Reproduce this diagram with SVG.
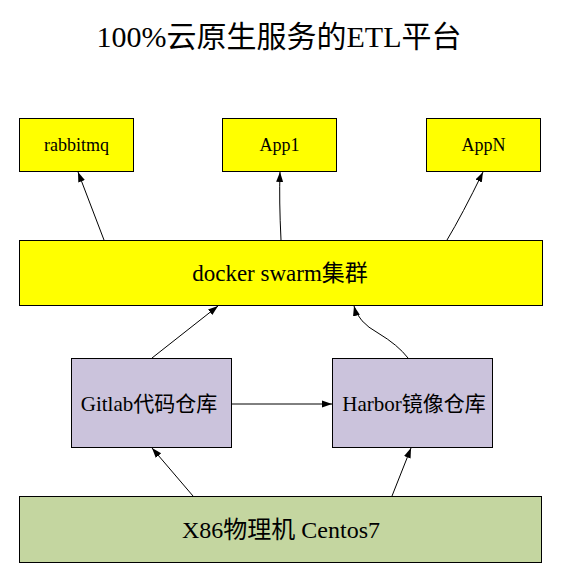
<svg xmlns="http://www.w3.org/2000/svg" width="566" height="582" viewBox="0 0 566 582">
<style>
.box{stroke:#000;stroke-width:1}
.y{fill:#ffff00}
.p{fill:#cbc3dc}
.g{fill:#c4d6a0}
text{font-family:"Liberation Serif","Noto Sans CJK SC",serif;fill:#000;text-anchor:middle}
.c{fill:none;stroke:#000;stroke-width:1}
</style>
<defs>
<marker id="ah" viewBox="0 0 10 10" refX="10" refY="5" markerWidth="10" markerHeight="10" markerUnits="userSpaceOnUse" orient="auto">
<path d="M0,1.5 L10,5 L0,8.5 Z" fill="#000"/>
</marker>
</defs>
<rect width="566" height="582" fill="#fff"/>
<text x="279" y="47" font-size="30">100%云原生服务的ETL平台</text>
<g id="rabbitmq"><rect class="box y" x="19.5" y="118.5" width="114" height="53"/><text x="76.5" y="151" font-size="18">rabbitmq</text></g>
<g id="app1"><rect class="box y" x="222.5" y="118.5" width="114" height="53"/><text x="279.5" y="151" font-size="18">App1</text></g>
<g id="appn"><rect class="box y" x="426.5" y="118.5" width="114" height="53"/><text x="483.5" y="151" font-size="18">AppN</text></g>
<g id="docker"><rect class="box y" x="19.5" y="240.5" width="523" height="65"/><text x="280" y="281" font-size="23">docker swarm集群</text></g>
<g id="gitlab"><rect class="box p" x="71.5" y="358.5" width="160" height="89"/><text x="149" y="411" font-size="21">Gitlab代码仓库</text></g>
<g id="harbor"><rect class="box p" x="332.5" y="358.5" width="160" height="89"/><text x="414" y="411" font-size="21">Harbor镜像仓库</text></g>
<g id="x86"><rect class="box g" x="19.5" y="496.5" width="522" height="66"/><text x="281" y="538" font-size="24">X86物理机 Centos7</text></g>
<g id="connectors">
<path class="c" marker-end="url(#ah)" d="M104,240 L78,172"/>
<path class="c" marker-end="url(#ah)" d="M281,240 Q279,200 280,172"/>
<path class="c" marker-end="url(#ah)" d="M447,240 Q462,215 483,172"/>
<path class="c" marker-end="url(#ah)" d="M152,358 L218,306"/>
<path class="c" marker-end="url(#ah)" d="M408,358 Q398,345 378,333 Q358,322 354,306"/>
<path class="c" marker-end="url(#ah)" d="M232,404 L332,404"/>
<path class="c" marker-end="url(#ah)" d="M193,496 L152,448"/>
<path class="c" marker-end="url(#ah)" d="M392,496 L411,448"/>
</g>
</svg>
